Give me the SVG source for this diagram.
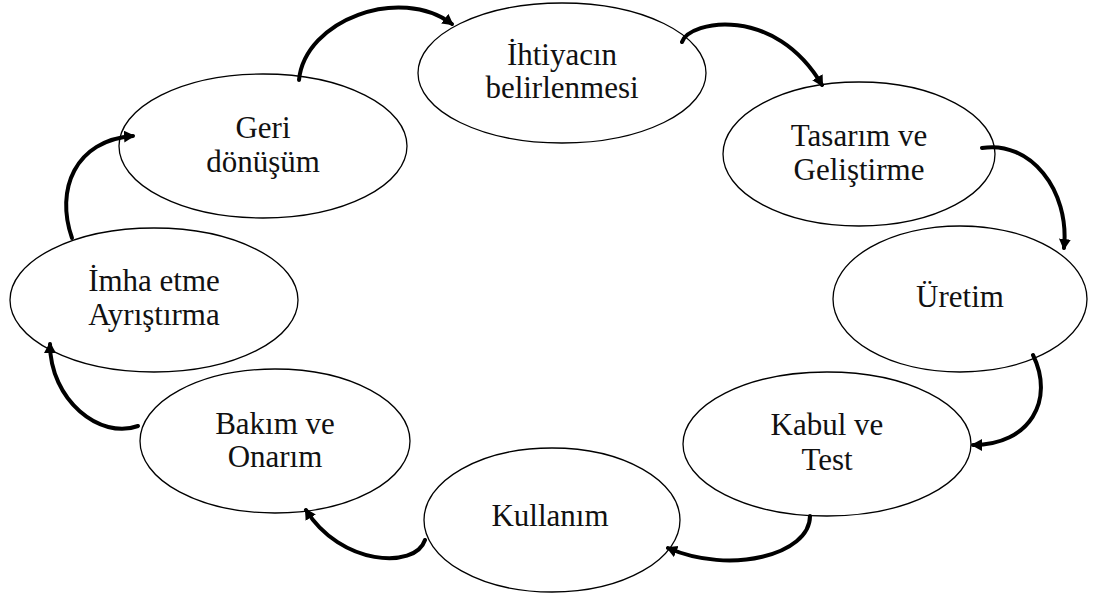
<svg xmlns="http://www.w3.org/2000/svg" width="1093" height="598" viewBox="0 0 1093 598">
<style>
.n{fill:#fff;stroke:#000;stroke-width:1.3}
.t{font-family:"Liberation Serif","Times New Roman",serif;font-size:31px;fill:#111;text-anchor:middle}
.c{fill:none;stroke:#000;stroke-width:4;stroke-linecap:round}
</style>
<defs>
<marker id="ah" markerUnits="userSpaceOnUse" markerWidth="14" markerHeight="14" refX="9" refY="6" orient="auto">
<path d="M0,0 L11,6 L0,12 Z" fill="#000"/>
</marker>
</defs>
<rect width="1093" height="598" fill="#fff"/>
<g id="n1"><ellipse class="n" cx="562" cy="73" rx="144" ry="70"/><text class="t" x="562" y="65">İhtiyacın</text><text class="t" x="562" y="98">belirlenmesi</text></g>
<g id="n2"><ellipse class="n" cx="859" cy="154" rx="136" ry="72"/><text class="t" x="859" y="146">Tasarım ve</text><text class="t" x="859" y="180">Geliştirme</text></g>
<g id="n3"><ellipse class="n" cx="960" cy="299" rx="127" ry="73"/><text class="t" x="960" y="307">Üretim</text></g>
<g id="n4"><ellipse class="n" cx="827" cy="444" rx="144" ry="72"/><text class="t" x="827" y="435">Kabul ve</text><text class="t" x="827" y="470">Test</text></g>
<g id="n5"><ellipse class="n" cx="552" cy="520" rx="128" ry="72"/><text class="t" x="550" y="526">Kullanım</text></g>
<g id="n6"><ellipse class="n" cx="275" cy="441" rx="135" ry="72"/><text class="t" x="275" y="434">Bakım ve</text><text class="t" x="275" y="467">Onarım</text></g>
<g id="n7"><ellipse class="n" cx="154" cy="300" rx="144" ry="72"/><text class="t" x="154" y="291">İmha etme</text><text class="t" x="154" y="325">Ayrıştırma</text></g>
<g id="n8"><ellipse class="n" cx="263" cy="146" rx="144" ry="72"/><text class="t" x="263" y="138">Geri</text><text class="t" x="263" y="172">dönüşüm</text></g>
<g id="connectors">
<path class="c" marker-end="url(#ah)" d="M299,80 C305,20 400,-15 452,24"/>
<path class="c" marker-end="url(#ah)" d="M682,42 C690,20 775,5 822,85"/>
<path class="c" marker-end="url(#ah)" d="M982,148 C1030,140 1070,190 1064,248"/>
<path class="c" marker-end="url(#ah)" d="M1033,355 C1055,400 1030,445 973,445"/>
<path class="c" marker-end="url(#ah)" d="M810,516 C810,555 730,575 668,548"/>
<path class="c" marker-end="url(#ah)" d="M425,540 C415,570 340,565 306,510"/>
<path class="c" marker-end="url(#ah)" d="M138,426 C100,440 50,400 50,344"/>
<path class="c" marker-end="url(#ah)" d="M72,238 C55,190 75,140 133,136"/>
</g>
</svg>
